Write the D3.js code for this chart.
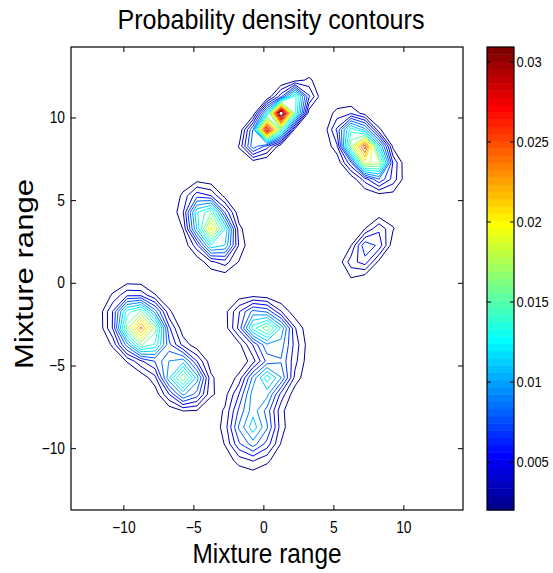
<!DOCTYPE html>
<html>
<head>
<meta charset="utf-8">
<script src="https://cdn.jsdelivr.net/npm/d3@7"></script>
<style>
  body { margin: 0; background: #fff; }
  text { font-family: "Liberation Sans", Arial, Helvetica, sans-serif; fill: #000; }
</style>
</head>
<body>
<svg id="chart" width="553" height="573"></svg>
<script>
// Mixture components (centre, spread along / across the long axis, tilt, peak height)
const compX     = [1.0,   7.26,  -3.74, 7.5,    -8.74, -5.74, 0.1,   0.35,  -0.74];
const compY     = [9.9,   8.0,    3.4,  2.1,    -2.74, -5.74, -2.74, -5.8,  -8.74];
const compMajor = [1.45,  1.4,    1.35, 1.35,    1.3,   1.1,   1.35,  1.3,   1.3];
const compMinor = [0.5,   0.72,   0.85, 0.6,     1.0,   0.9,   0.8,   0.8,   1.15];
const compAngle = [40,   -45,   -55,    45,    -40,   -40,   -20,    30,    80];
const compPeak  = [0.037, 0.027,  0.021, 0.0088, 0.024, 0.017, 0.017, 0.013, 0.012];

// Evaluation grid (same range on both axes)
const gridStart = -13.74;
const gridStep = 1;
const gridCount = 29;

// Contour levels (also the colour bar range) and tick values
const levelMin = 0.00198;
const levelMax = 0.0309;
const levelCount = 20;
const axisTicks = [-10, -5, 0, 5, 10];
const colorTicks = [0.005, 0.01, 0.015, 0.02, 0.025, 0.03];

// jet colormap anchors (MATLAB jet(64))
const jetPos = [0, 7 / 63, 23 / 63, 39 / 63, 55 / 63, 1];
const jetCol = ["#00008f", "#0000ff", "#00ffff", "#ffff00", "#ff0000", "#800000"];

const svg = d3.select("#chart");
const plot = { left: 71, right: 463, top: 47, bottom: 510 };
const bar = { left: 487, right: 514 };

const domain = [gridStart, gridStart + (gridCount - 1) * gridStep];
const xScale = d3.scaleLinear().domain(domain).range([plot.left, plot.right]);
const yScale = d3.scaleLinear().domain(domain).range([plot.bottom, plot.top]);

const levels = d3.range(levelCount).map(k => levelMin + k * (levelMax - levelMin) / (levelCount - 1));
const cScale = d3.scaleLinear().domain([levelMin, levelMax]).range([plot.bottom, plot.top]);

const jet = d3.scaleLinear().domain(jetPos).range(jetCol).interpolate(d3.interpolateRgb);
const jet64 = d3.range(64).map(i => jet(i / 63));
function levelColor(v) {
  const t = (v - levelMin) / (levelMax - levelMin);
  return jet64[Math.max(0, Math.min(63, Math.floor(t * 64)))];
}

// mixture density on the grid
function density(x, y) {
  let s = 0;
  for (let k = 0; k < compX.length; k++) {
    const a = compAngle[k] * Math.PI / 180;
    const dx = x - compX[k], dy = y - compY[k];
    const u = dx * Math.cos(a) + dy * Math.sin(a);
    const v = -dx * Math.sin(a) + dy * Math.cos(a);
    s += compPeak[k] * Math.exp(-0.5 * (u * u / (compMajor[k] ** 2) + v * v / (compMinor[k] ** 2)));
  }
  return s;
}
const values = new Array(gridCount * gridCount);
for (let j = 0; j < gridCount; j++) {
  for (let i = 0; i < gridCount; i++) {
    values[i + j * gridCount] = density(gridStart + i * gridStep, gridStart + j * gridStep);
  }
}

const contours = d3.contours().size([gridCount, gridCount]).thresholds(levels)(values);
const toData = c => gridStart + (c - 0.5) * gridStep;
const proj = d3.geoTransform({
  point(x, y) { this.stream.point(xScale(toData(x)), yScale(toData(y))); }
});
const path = d3.geoPath(proj);

svg.append("defs").append("clipPath").attr("id", "clip")
  .append("rect")
  .attr("x", plot.left).attr("y", plot.top)
  .attr("width", plot.right - plot.left).attr("height", plot.bottom - plot.top);

svg.append("g").attr("clip-path", "url(#clip)")
  .selectAll("path")
  .data(contours)
  .enter().append("path")
    .attr("d", path)
    .attr("fill", "none")
    .attr("stroke", d => levelColor(d.value))
    .attr("stroke-width", 1)
    .attr("stroke-linejoin", "round");

// Axes: ticks inside on all four sides, narrow tick labels
function styleAxis(size) {
  return g => {
    g.select(".domain").remove();
    g.selectAll(".tick line").attr("stroke", "#000");
    g.selectAll(".tick text")
      .attr("font-size", size + "px").attr("fill", "#000")
      .attr("font-family", "\"Liberation Sans\", Arial, sans-serif")
      .each(function() {
        const w = this.getComputedTextLength();
        if (w > 0) d3.select(this).attr("textLength", w * 0.86).attr("lengthAdjust", "spacingAndGlyphs");
      });
  };
}
svg.append("g").attr("transform", `translate(0,${plot.bottom})`)
  .call(d3.axisBottom(xScale).tickValues(axisTicks).tickSize(-5).tickPadding(12))
  .call(styleAxis(16));
svg.append("g").attr("transform", `translate(0,${plot.top})`)
  .call(d3.axisTop(xScale).tickValues(axisTicks).tickSize(-5).tickFormat(""))
  .call(styleAxis(16));
svg.append("g").attr("transform", `translate(${plot.left},0)`)
  .call(d3.axisLeft(yScale).tickValues(axisTicks).tickSize(-5).tickPadding(6))
  .call(styleAxis(16));
svg.append("g").attr("transform", `translate(${plot.right},0)`)
  .call(d3.axisRight(yScale).tickValues(axisTicks).tickSize(-5).tickFormat(""))
  .call(styleAxis(16));
svg.append("rect")
  .attr("x", plot.left).attr("y", plot.top)
  .attr("width", plot.right - plot.left).attr("height", plot.bottom - plot.top)
  .attr("fill", "none").attr("stroke", "#000").attr("stroke-width", 1.2);

// Colour bar
const bandH = (plot.bottom - plot.top) / 64;
svg.append("g").selectAll("rect")
  .data(jet64)
  .enter().append("rect")
    .attr("x", bar.left)
    .attr("y", (d, i) => plot.bottom - (i + 1) * bandH)
    .attr("width", bar.right - bar.left)
    .attr("height", bandH + 0.5)
    .attr("fill", d => d);
svg.append("g").attr("transform", `translate(${bar.right},0)`)
  .call(d3.axisRight(cScale).tickValues(colorTicks).tickSize(-4).tickPadding(2.5).tickFormat(d => String(d)))
  .call(styleAxis(15));
svg.append("g").attr("transform", `translate(${bar.left},0)`)
  .call(d3.axisLeft(cScale).tickValues(colorTicks).tickSize(-4).tickFormat(""))
  .call(styleAxis(15));
svg.append("rect")
  .attr("x", bar.left).attr("y", plot.top)
  .attr("width", bar.right - bar.left).attr("height", plot.bottom - plot.top)
  .attr("fill", "none").attr("stroke", "#000").attr("stroke-width", 1.2);

// Titles
svg.append("text")
  .attr("x", 271).attr("y", 28.5)
  .attr("text-anchor", "middle").attr("font-size", "28px")
  .attr("textLength", 307).attr("lengthAdjust", "spacingAndGlyphs")
  .text("Probability density contours");
svg.append("text")
  .attr("x", 267).attr("y", 563)
  .attr("text-anchor", "middle").attr("font-size", "28px")
  .attr("textLength", 149).attr("lengthAdjust", "spacingAndGlyphs")
  .text("Mixture range");
svg.append("text")
  .attr("transform", "translate(33,274) rotate(-90)")
  .attr("text-anchor", "middle").attr("font-size", "26px")
  .attr("textLength", 190).attr("lengthAdjust", "spacingAndGlyphs")
  .text("Mixture range");
</script>
</body>
</html>
